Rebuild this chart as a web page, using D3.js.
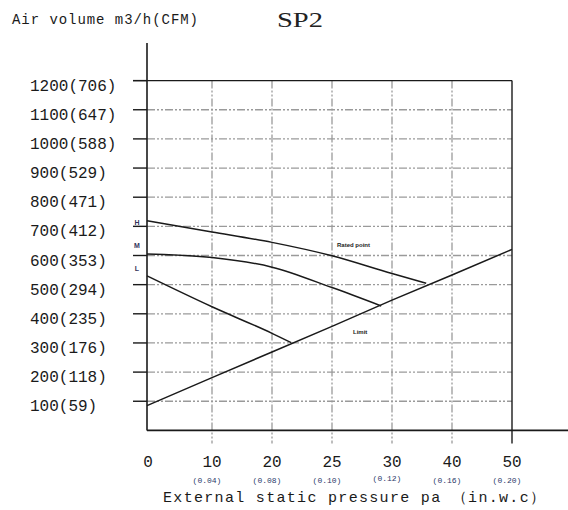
<!DOCTYPE html>
<html>
<head>
<meta charset="utf-8">
<script src="https://cdn.jsdelivr.net/npm/d3@7"></script>
<style>
  body { margin: 0; background: #fff; }
</style>
</head>
<body>
<div id="chart"></div>
<script>
// air volume ticks (m3/h) and the CFM in brackets
var flowTicks = [100, 200, 300, 400, 500, 600, 700, 800, 900, 1000, 1100, 1200];
var cfmTicks = [59, 118, 176, 235, 294, 353, 412, 471, 529, 588, 647, 706];

// pressure ticks (pa) and in.w.c underneath
var pressTicks = [0, 10, 20, 25, 30, 40, 50];
var inwcTicks = ["", "(0.04)", "(0.08)", "(0.10)", "(0.12)", "(0.16)", "(0.20)"];

// fan curves
var highPress = [0, 10, 20, 25, 30, 35.7];
var highFlow = [719, 681, 645, 599, 538, 505];
var midPress = [0, 10, 20, 25, 29.1];
var midFlow = [605, 593, 560, 490, 427];
var lowPress = [0, 10, 20, 21.6];
var lowFlow = [530, 424, 333, 301];

// system (limit) line
var limitPress = [0, 10, 20, 25, 30, 40, 50];
var limitFlow = [85, 181, 269, 357, 447, 533, 621];

var W = 568, H = 510;

var svg = d3.select("#chart")
  .append("svg")
    .attr("width", W)
    .attr("height", H);

// the pressure axis is not linear: 25 sits half way between 20 and 30
var x = d3.scaleLinear()
  .domain(pressTicks)
  .range([147, 212, 272, 332, 392, 452, 512]);

var y = d3.scaleLinear()
  .domain([0, 1200])
  .range([430.4, 80.6]);

var grid = "#9a9a9a", ink = "#1a1a1a";
var mono = "'Liberation Mono', 'DejaVu Sans Mono', monospace";

// horizontal grid
svg.append("g")
  .selectAll("line")
  .data(flowTicks.slice(0, -1))
  .enter()
  .append("line")
    .attr("x1", x(0)).attr("x2", x(50))
    .attr("y1", function(d) { return y(d); })
    .attr("y2", function(d) { return y(d); })
    .style("stroke", grid)
    .style("stroke-width", 1.3)
    .style("stroke-dasharray", "8,2,2,2,2,2");

// vertical grid
svg.append("g")
  .selectAll("line")
  .data(pressTicks.slice(1, -1))
  .enter()
  .append("line")
    .attr("x1", function(d) { return x(d); })
    .attr("x2", function(d) { return x(d); })
    .attr("y1", y(1200)).attr("y2", y(0) + 13)
    .style("stroke", grid)
    .style("stroke-width", 1.3)
    .style("stroke-dasharray", "8,2,2,2,2,2");

// frame: top at 1200, right at 50
svg.append("line")
  .attr("x1", x(0) - 14).attr("x2", x(50))
  .attr("y1", y(1200)).attr("y2", y(1200))
  .style("stroke", ink).style("stroke-width", 1.4);
svg.append("line")
  .attr("x1", x(50)).attr("x2", x(50))
  .attr("y1", y(1200)).attr("y2", y(0) + 13)
  .style("stroke", ink).style("stroke-width", 1.4);

// y axis
svg.append("line")
  .attr("x1", x(0)).attr("x2", x(0))
  .attr("y1", 43).attr("y2", y(0))
  .style("stroke", ink).style("stroke-width", 1.6);
svg.append("g")
  .selectAll("line")
  .data(flowTicks)
  .enter()
  .append("line")
    .attr("x1", x(0) - 14).attr("x2", x(0))
    .attr("y1", function(d) { return y(d); })
    .attr("y2", function(d) { return y(d); })
    .style("stroke", ink)
    .style("stroke-width", 1.4);
svg.append("g")
  .selectAll("text")
  .data(flowTicks)
  .enter()
  .append("text")
    .attr("x", 30)
    .attr("y", function(d) { return y(d) + 10; })
    .text(function(d, i) { return d + "(" + cfmTicks[i] + ")"; })
    .style("font-family", mono)
    .style("font-size", "16px")
    .style("fill", ink);

// x axis
svg.append("line")
  .attr("x1", x(0)).attr("x2", W)
  .attr("y1", y(0)).attr("y2", y(0))
  .style("stroke", ink).style("stroke-width", 1.6);
svg.append("g")
  .selectAll("text")
  .data(pressTicks)
  .enter()
  .append("text")
    .attr("x", function(d) { return x(d) + (d == 0 ? 1 : 0); })
    .attr("y", 467)
    .attr("text-anchor", "middle")
    .text(function(d) { return d; })
    .style("font-family", mono)
    .style("font-size", "16px")
    .style("fill", ink);
svg.append("g")
  .selectAll("text")
  .data(pressTicks)
  .enter()
  .append("text")
    .attr("x", function(d) { return x(d) - 5; })
    .attr("y", function(d) { return d == 30 ? 481 : 483; })
    .attr("text-anchor", "middle")
    .text(function(d, i) { return inwcTicks[i]; })
    .style("font-family", mono)
    .style("font-size", "8px")
    .style("fill", "#2a3a6a");

// curves
var line = d3.line()
  .x(function(d) { return x(d[0]); })
  .y(function(d) { return y(d[1]); })
  .curve(d3.curveMonotoneX);

var curves = [
  d3.zip(highPress, highFlow),
  d3.zip(midPress, midFlow),
  d3.zip(lowPress, lowFlow)
];
svg.append("g")
  .selectAll("path")
  .data(curves)
  .enter()
  .append("path")
    .attr("d", line)
    .style("fill", "none")
    .style("stroke", ink)
    .style("stroke-width", 1.5);

svg.append("path")
  .datum(d3.zip(limitPress, limitFlow))
  .attr("d", line.curve(d3.curveLinear))
  .style("fill", "none")
  .style("stroke", ink)
  .style("stroke-width", 1.5);

// H / M / L markers, just left of the axis
var speedLabels = [["H", highFlow[0], 2], ["M", midFlow[0], -9], ["L", lowFlow[0], -7]];
svg.append("g")
  .selectAll("text")
  .data(speedLabels)
  .enter()
  .append("text")
    .attr("x", 137)
    .attr("y", function(d) { return y(d[1]) + d[2] + 2.5; })
    .attr("text-anchor", "middle")
    .text(function(d) { return d[0]; })
    .style("font-family", "'Liberation Sans', sans-serif")
    .style("font-weight", "bold")
    .style("font-size", "7px")
    .style("fill", "#33335a");

svg.append("text")
  .attr("x", 337).attr("y", 247)
  .text("Rated point")
  .style("font-family", "'Liberation Sans Narrow', 'Liberation Sans', sans-serif")
  .style("font-weight", "bold")
  .style("font-size", "6px")
  .style("fill", "#222");
svg.append("text")
  .attr("x", 353).attr("y", 334)
  .text("Limit")
  .style("font-family", "'Liberation Sans Narrow', 'Liberation Sans', sans-serif")
  .style("font-weight", "bold")
  .style("font-size", "6px")
  .style("fill", "#222");

// titles
svg.append("text")
  .attr("x", 12).attr("y", 24)
  .attr("textLength", 186)
  .text("Air volume m3/h(CFM)")
  .style("font-family", mono)
  .style("font-size", "14px")
  .style("fill", ink);
svg.append("text")
  .attr("x", 277).attr("y", 27)
  .attr("textLength", 46)
  .attr("lengthAdjust", "spacingAndGlyphs")
  .text("SP2")
  .style("font-family", "'Liberation Serif', serif")
  .style("font-size", "22px")
  .style("fill", "#222");
svg.append("text")
  .attr("x", 163).attr("y", 502)
  .attr("textLength", 382)
  .text("External static pressure pa （in.w.c）")
  .style("font-family", mono)
  .style("font-size", "15px")
  .style("fill", ink);
</script>
</body>
</html>
